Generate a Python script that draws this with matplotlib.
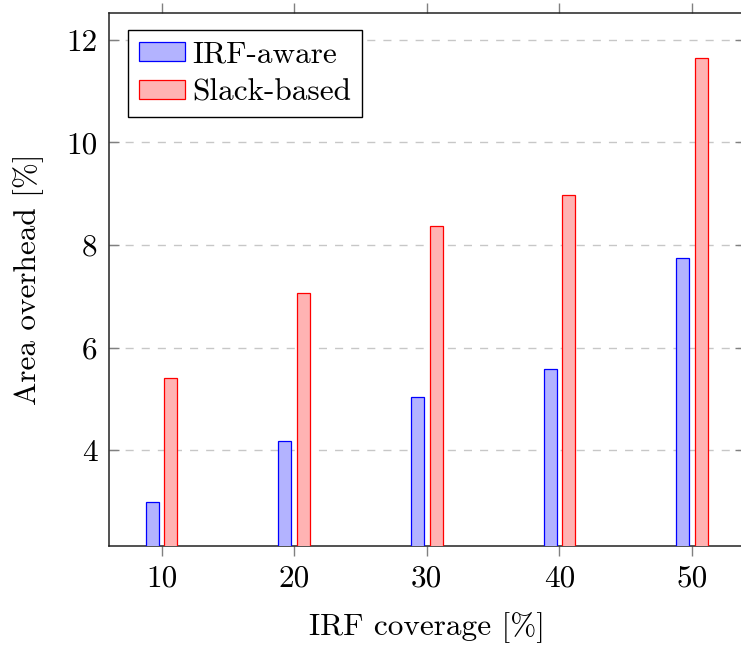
import matplotlib
matplotlib.use("Agg")
import matplotlib.pyplot as plt
import numpy as np

# Data
coverage = [10, 20, 30, 40, 50]
irf_aware = [3.00, 4.19, 5.04, 5.59, 7.75]
slack_based = [5.40, 7.06, 8.36, 8.97, 11.64]
y_ticks = [4, 6, 8, 10, 12]

plt.rcParams["font.family"] = ["cmr10", "DejaVu Serif"]
plt.rcParams["axes.formatter.use_mathtext"] = True
plt.rcParams["mathtext.fontset"] = "cm"

W, H = 741, 646
fig = plt.figure(figsize=(W / 100, H / 100), dpi=100)

# axes box in pixel coordinates (left, right, top, bottom)
L, R, T, B = 108.5, 745.0, 13.0, 546.0
ax = fig.add_axes([L / W, 1 - B / H, (R - L) / W, (B - T) / H])

FS = 22.5
bw = 0.98
off = 0.7
x = np.array(coverage, dtype=float)

ax.bar(x - off, irf_aware, width=bw, color=(0.70, 0.70, 1.0),
       edgecolor=(0, 0, 1), linewidth=0.9, label="IRF-aware", zorder=3)
ax.bar(x + off, slack_based, width=bw, color=(1.0, 0.70, 0.70),
       edgecolor=(1, 0, 0), linewidth=0.9, label="Slack-based", zorder=3)

ax.set_xlim(6, 54)
ax.set_ylim(2.136, 12.518)
ax.set_xticks(coverage)
ax.set_yticks(y_ticks)
ax.set_xticklabels([str(c) for c in coverage])
ax.set_yticklabels([str(t) for t in y_ticks])

ax.yaxis.grid(True, linestyle=(0, (5.8, 5.8)), color=(0.78, 0.78, 0.78),
              linewidth=1.0, zorder=0)
ax.set_axisbelow(True)

for s in ax.spines.values():
    s.set_linewidth(1.1)
    s.set_color("#222222")

tick_col = (0.5, 0.5, 0.5)
ax.tick_params(axis="x", which="major", direction="out", length=7.5, width=1.0,
               color=tick_col, top=True, bottom=True, labelsize=FS, pad=6)
ax.tick_params(axis="y", which="major", direction="in", length=7.5, width=1.0,
               color=tick_col, left=True, right=True, labelsize=FS, pad=8)

ax.set_xlabel("IRF coverage [%]", fontsize=FS)
ax.set_ylabel("Area overhead [%]", fontsize=FS)
ax.xaxis.set_label_coords((426.75 - L) / (R - L), -(612 - B) / (B - T))
ax.yaxis.set_label_coords(-(L - 44) / (R - L), 0.5)

leg = ax.legend(loc="upper left",
                bbox_to_anchor=(128.3 / W, 1 - 30 / H),
                bbox_transform=fig.transFigure, borderaxespad=0,
                fontsize=FS, frameon=True, fancybox=False, framealpha=1,
                edgecolor="black", handlelength=1.45, handleheight=0.55,
                handletextpad=0.25, labelspacing=0.3, borderpad=0.35)
leg.get_frame().set_linewidth(1.0)

fig.savefig("out.png", dpi=100)
